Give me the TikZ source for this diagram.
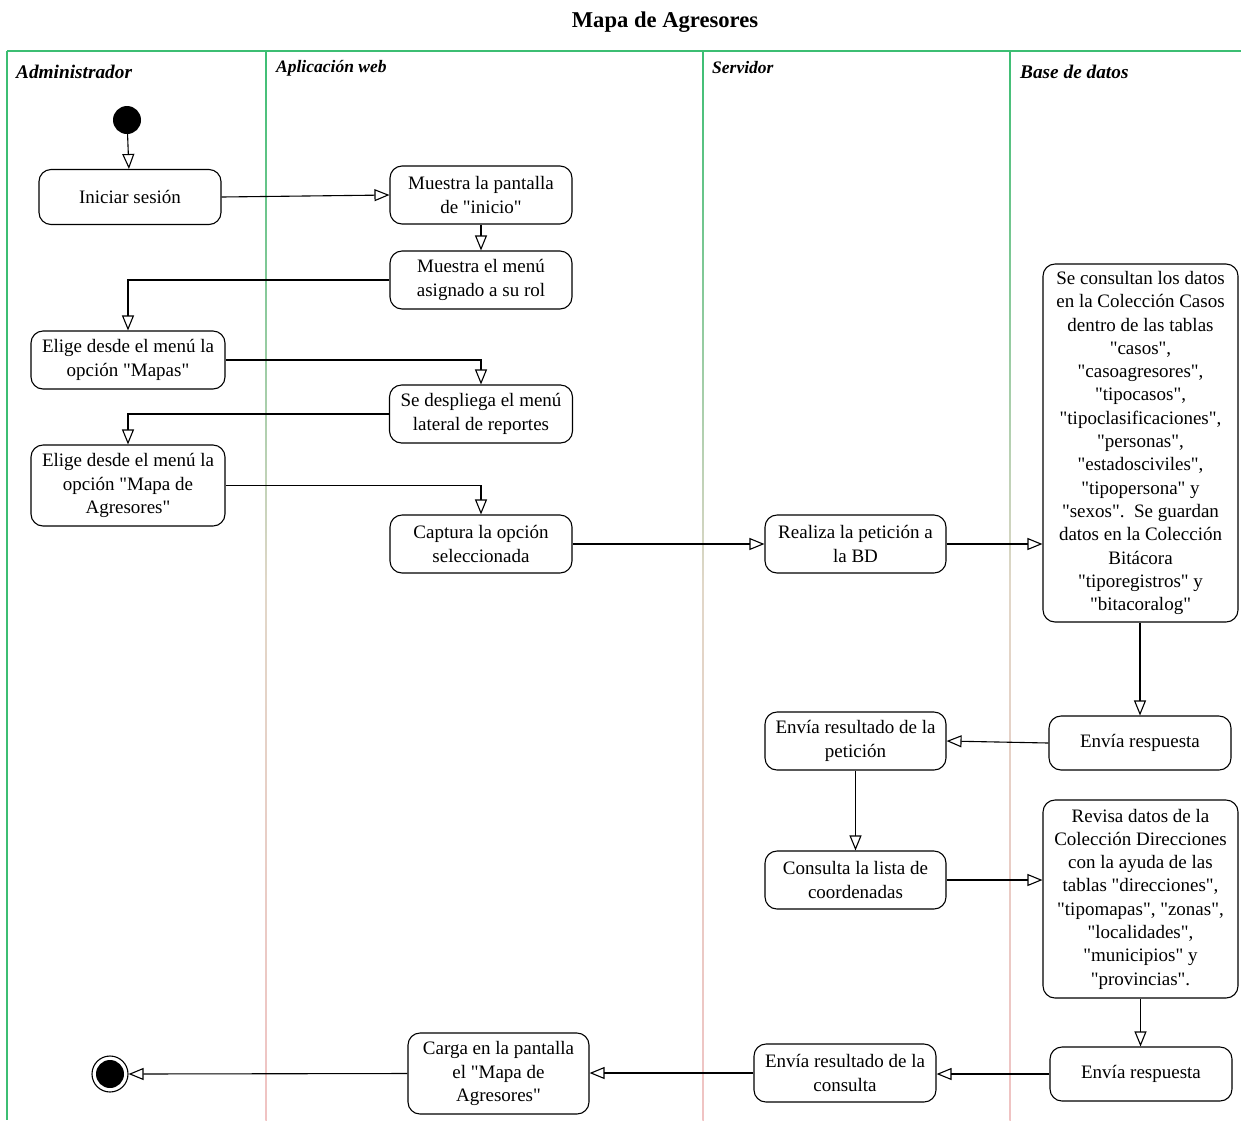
\documentclass[tikz,border=0pt]{standalone}
\usepackage{fontspec}
\setmainfont{Liberation Serif}
\usetikzlibrary{arrows.meta}
\newcommand\dq{\textquotedbl}
\definecolor{lanegreen}{RGB}{60,190,115}
\definecolor{lanepink}{RGB}{240,195,195}
\tikzset{
  act/.style={draw, rounded corners=12pt, line width=1.1pt, align=center, inner sep=0pt,
    font=\fontsize{19}{23.3}\selectfont, fill=white},
  flow/.style={line width=1.1pt, -{Triangle[open, length=15pt, width=12pt, line width=1.1pt]}},
  lanehead/.style={anchor=west, inner sep=0pt, font=\bfseries\itshape\fontsize{19.3}{22}\selectfont},
  laneheadsmall/.style={anchor=west, inner sep=0pt, font=\bfseries\itshape\fontsize{17.5}{20}\selectfont},
}
\begin{document}
\begin{tikzpicture}[x=1pt,y=-1pt]
\useasboundingbox (0,0) rectangle (1241,1120);
% title
\node[font=\bfseries\fontsize{22.6}{26}\selectfont] (title) at (665,22) {Mapa de Agresores};
% lanes
\draw[lanegreen, line width=1.4pt] (7,51) -- (1241,51);
\draw[lanegreen, line width=1.4pt] (7,51) -- (7,1120);
\foreach \xx in {266,703,1010}{
  \shade[top color=lanegreen, bottom color=lanepink, middle color={rgb,255:red,225;green,215;blue,200}] (\xx-0.75,51) rectangle (\xx+0.75,1120);
}
\node[lanehead] (h1) at (16,72) {Administrador};
\node[laneheadsmall] (h2) at (276,68) {Aplicación web};
\node[laneheadsmall] (h3) at (712,68) {Servidor};
\node[lanehead] (h4) at (1020,72) {Base de datos};
% nodes
\node[circle, fill=black, minimum size=28pt, inner sep=0pt] (start) at (127,120) {};
\node[act, minimum width=182pt, minimum height=55pt] (iniciar) at (130,197) {Iniciar sesión};
\node[act, minimum width=182pt, minimum height=58pt] (pantalla) at (481,195) {Muestra la pantalla\\de \dq inicio\dq};
\node[act, minimum width=182pt, minimum height=58pt] (menu) at (481,280) {Muestra el menú\\asignado a su rol};
\node[act, minimum width=194pt, minimum height=58pt] (mapas) at (128,360) {Elige desde el menú la\\opción \dq Mapas\dq};
\node[act, minimum width=183pt, minimum height=58pt] (despliega) at (481,414) {Se despliega el menú\\lateral de reportes};
\node[act, minimum width=194pt, minimum height=81pt] (mapaagr) at (128,485.5) {Elige desde el menú la\\opción \dq Mapa de\\Agresores\dq};
\node[act, minimum width=182pt, minimum height=58pt] (captura) at (481,544) {Captura la opción\\seleccionada};
\node[act, minimum width=181pt, minimum height=58pt] (realiza) at (855.5,544) {Realiza la petición a\\la BD};
\node[act, minimum width=195pt, minimum height=358pt] (consultan) at (1140.5,443) {Se consultan los datos\\en la Colección Casos\\dentro de las tablas\\\dq casos\dq,\\\dq casoagresores\dq,\\\dq tipocasos\dq,\\\dq tipoclasificaciones\dq,\\\dq personas\dq,\\\dq estadosciviles\dq,\\\dq tipopersona\dq{} y\\\dq sexos\dq.\ \ Se guardan\\datos en la Colección\\Bitácora\\\dq tiporegistros\dq{} y\\\dq bitacoralog\dq};
\node[act, minimum width=182pt, minimum height=54pt] (resp1) at (1140,743) {Envía respuesta};
\node[act, minimum width=181pt, minimum height=58pt] (respet) at (855.5,741) {Envía resultado de la\\petición};
\node[act, minimum width=181pt, minimum height=58pt] (coord) at (855.5,880) {Consulta la lista de\\coordenadas};
\node[act, minimum width=195pt, minimum height=198pt] (revisa) at (1140.5,899) {Revisa datos de la\\Colección Direcciones\\con la ayuda de las\\tablas \dq direcciones\dq,\\\dq tipomapas\dq, \dq zonas\dq,\\\dq localidades\dq,\\\dq municipios\dq{} y\\\dq provincias\dq.};
\node[act, minimum width=182pt, minimum height=54pt] (resp2) at (1141,1074) {Envía respuesta};
\node[act, minimum width=182pt, minimum height=58pt] (rescons) at (845,1073) {Envía resultado de la\\consulta};
\node[act, minimum width=181pt, minimum height=81pt] (carga) at (498.5,1073.5) {Carga en la pantalla\\el \dq Mapa de\\Agresores\dq};
\node[circle, draw=black, line width=1.1pt, fill=white, minimum size=36pt, inner sep=0pt] (fin) at (110,1074) {};
\node[circle, fill=black, minimum size=28pt, inner sep=0pt] (finin) at (fin) {};
% connectors
\draw[flow] (start) -- (iniciar);
\draw[flow] (iniciar.east) -- (pantalla.west);
\draw[flow] (pantalla) -- (menu);
\draw[flow] (menu.west) -| (mapas.north);
\draw[flow] (mapas.east) -| (despliega.north);
\draw[flow] (despliega.west) -| (mapaagr.north);
\draw[flow] (mapaagr.east) -| (captura.north);
\draw[flow] (captura) -- (realiza);
\draw[flow] (realiza.east) -- (consultan.west |- realiza.east);
\draw[flow] (consultan.south -| resp1.north) -- (resp1.north);
\draw[flow] (resp1.west) -- (respet.east);
\draw[flow] (respet) -- (coord);
\draw[flow] (coord.east) -- (revisa.west |- coord.east);
\draw[flow] (revisa.south) -- (revisa.south |- resp2.north);
\draw[flow] (resp2.west) -- (rescons.east |- resp2.west);
\draw[flow] (rescons.west) -- (carga.east |- rescons.west);
\draw[flow] (carga.west) -- (fin.east);
\end{tikzpicture}
\end{document}
